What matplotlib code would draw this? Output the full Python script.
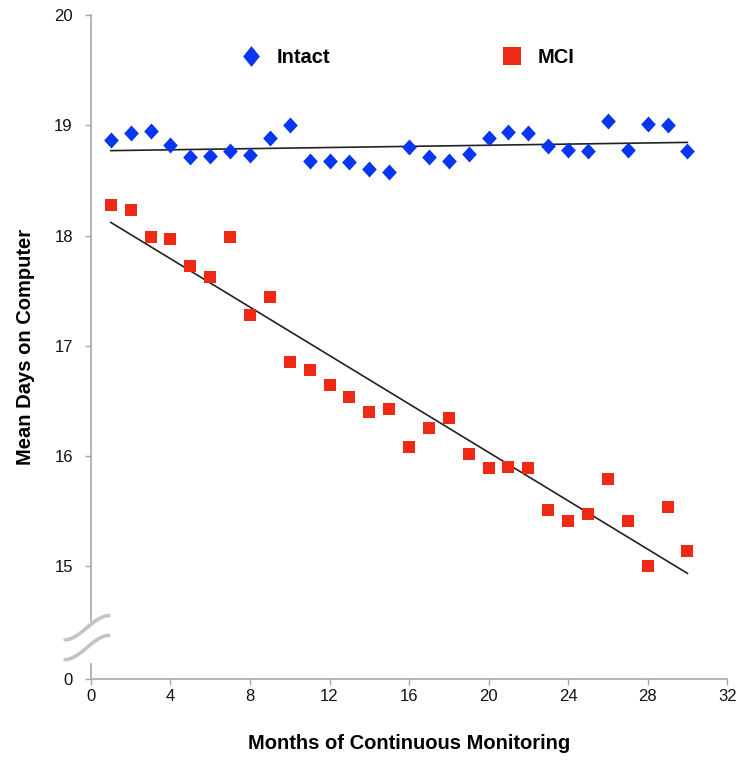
import numpy as np
import matplotlib
matplotlib.use("Agg")
import matplotlib.pyplot as plt
from matplotlib.lines import Line2D
from matplotlib import font_manager

plt.rcParams['font.family'] = ['Liberation Sans', 'DejaVu Sans']

months = list(range(1, 31))
intact = [18.87, 18.93, 18.95, 18.82, 18.71, 18.72, 18.77, 18.73, 18.89, 19.00,
          18.68, 18.68, 18.67, 18.60, 18.58, 18.80, 18.71, 18.68, 18.74, 18.89,
          18.94, 18.93, 18.81, 18.78, 18.77, 19.04, 18.78, 19.01, 19.00, 18.77]
mci = [18.28, 18.23, 17.99, 17.97, 17.72, 17.62, 17.99, 17.28, 17.44, 16.85,
       16.78, 16.64, 16.53, 16.40, 16.43, 16.08, 16.25, 16.34, 16.02, 15.89,
       15.90, 15.89, 15.51, 15.41, 15.47, 15.79, 15.41, 15.00, 15.54, 15.14]
x_ticks = [0, 4, 8, 12, 16, 20, 24, 28, 32]
y_tick_vals = [15, 16, 17, 18, 19, 20]
y_tick_labels = ['0', '15', '16', '17', '18', '19', '20']
series_names = ['Intact', 'MCI']

blue = '#0636F2'
red = '#EE2A16'
gray = '#a8a8a8'

# broken axis: position where "0" is drawn
zero_pos = 13.975
y_bottom = zero_pos
y_top = 20

names = {f.name for f in font_manager.fontManager.ttflist}
tick_family = ['Liberation Sans Narrow', 'Liberation Sans'] if 'Liberation Sans Narrow' in names else ['Liberation Sans']

diamond = [(0, 1), (0.92, 0), (0, -1), (-0.92, 0), (0, 1)]
diamond_leg = [(0, 1), (0.8, 0), (0, -1), (-0.8, 0), (0, 1)]

fig = plt.figure(figsize=(7.39, 7.62), dpi=100)
ax = fig.add_axes([0.123, 0.109, 0.861, 0.871])

x = np.array(months, dtype=float)
ax.plot(x, intact, linestyle='none', marker=diamond, markersize=11.5, color=blue,
        markeredgewidth=0, zorder=3)
ax.plot(x, mci, linestyle='none', marker='s', markersize=8, color=red,
        markeredgewidth=0, zorder=3)

for vals in (intact, mci):
    p = np.polyfit(x, vals, 1)
    ax.plot([x[0], x[-1]], np.polyval(p, [x[0], x[-1]]), color='#222222', lw=1.2, zorder=2)

ax.set_xlim(0, 32)
ax.set_ylim(y_bottom, y_top)
ax.set_xticks(x_ticks)
ax.set_yticks([zero_pos] + y_tick_vals)
ax.set_yticklabels(y_tick_labels)

for s in ['top', 'right']:
    ax.spines[s].set_visible(False)
for s in ['left', 'bottom']:
    ax.spines[s].set_color(gray)
    ax.spines[s].set_linewidth(1.2)

break_top = 14.5
break_bot = 14.11
ax.spines['left'].set_bounds(break_top, y_top)
ax.plot([0, 0], [y_bottom, break_bot], color=gray, lw=1.2, clip_on=False, zorder=1)

ax.tick_params(axis='both', direction='out', length=4, width=1, color=gray,
               labelsize=12, labelcolor='#111111')
ax.tick_params(axis='y', pad=9)
ax.tick_params(axis='x', pad=3)
for lab in ax.get_xticklabels() + ax.get_yticklabels():
    lab.set_family(tick_family)

# break marks (wavy lines)
t = np.linspace(0, 1, 60)
xs = -1.3 + 2.2 * t
for y0 in (14.44, 14.26):
    ys = y0 + 0.1 * np.sin(np.pi * (t - 0.5)) + 0.02 * (t - 0.5)
    ax.plot(xs, ys, color='#c4c4c4', lw=2.6, clip_on=False, zorder=1,
            solid_capstyle='round')

ax.set_xlabel('Months of Continuous Monitoring', fontsize=14.5, fontweight='bold', labelpad=22)
ax.set_ylabel('Mean Days on Computer', fontsize=14.5, fontweight='bold', labelpad=14)

handles = [Line2D([], [], linestyle='none', marker=diamond_leg, markersize=15, color=blue, markeredgewidth=0),
           Line2D([], [], linestyle='none', marker='s', markersize=13, color=red, markeredgewidth=0)]
leg = fig.legend(handles, series_names, loc='center', bbox_to_anchor=(0.545, 0.924), ncol=2,
                 frameon=False, columnspacing=8, handletextpad=0.3,
                 prop={'weight': 'bold', 'size': 14.5})

fig.savefig('out.png', dpi=100)
